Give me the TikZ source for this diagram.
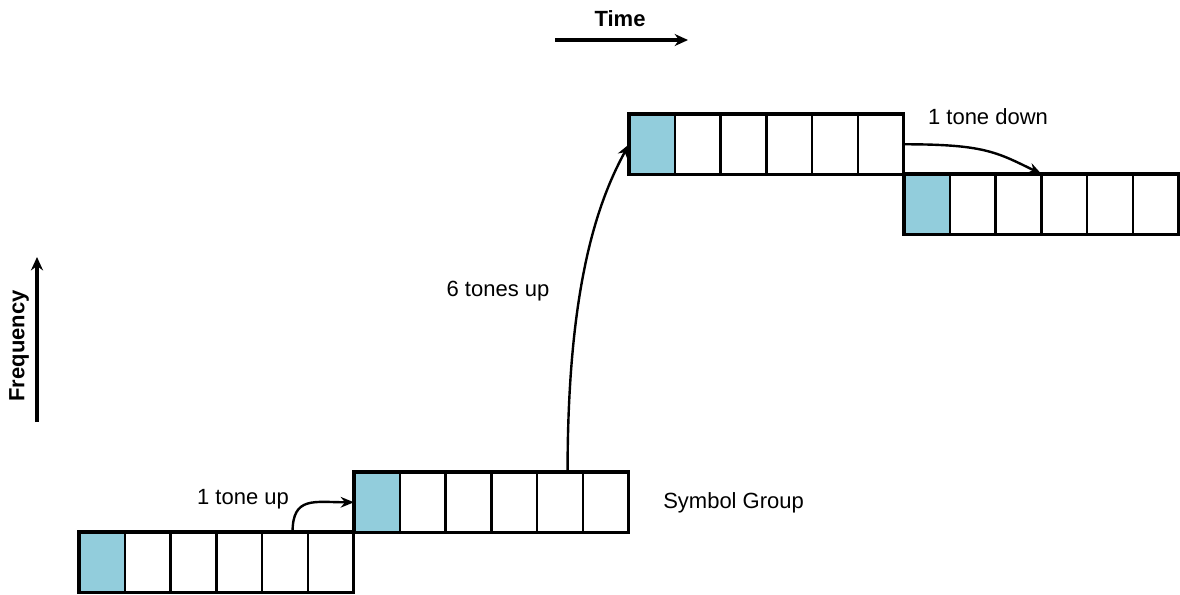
\documentclass[tikz,border=0pt]{standalone}
\usepackage{fontspec}
\setmainfont{Liberation Sans}
\usetikzlibrary{arrows.meta}
\definecolor{tonefill}{RGB}{146,205,220}
\begin{document}
\begin{tikzpicture}[x=0.75pt,y=-0.75pt,
  cell/.style={draw, line width=1.8pt, minimum width=34.35pt, minimum height=45.4pt,
               inner sep=0pt, outer sep=0pt, anchor=north west},
  active/.style={cell, fill=tonefill},
  frame/.style={draw, line width=2.5pt},
  hop/.style={line width=1.8pt, -{Stealth[length=10pt,width=8pt]}},
  axis/.style={line width=2.4pt, -{Stealth[length=10pt,width=9pt]}},
  lbl/.style={font=\fontsize{16.5}{20}\selectfont, inner sep=0pt},
  axlbl/.style={font=\bfseries\fontsize{16.5}{20}\selectfont, inner sep=0pt}]
  \useasboundingbox (0,0) rectangle (1180,594);

  % four symbol groups of six tone cells each; the first cell carries the tone
  \foreach \g/\x/\y in {1/79/532, 2/354/472, 3/629/114, 4/904/174} {
    \node[active] (g\g c1) at (\x,\y) {};
    \foreach \i in {2,...,6} {
      \node[cell] (g\g c\i) at ({\x+(\i-1)*45.8},\y) {};
    }
    \draw[frame] (g\g c1.north west) rectangle (g\g c6.south east);
  }

  % axes
  \coordinate (t0) at (555,40);
  \coordinate (t1) at (688,40);
  \draw[axis] (t0) -- (t1);
  \node[axlbl] (time) at (620,19) {Time};

  \coordinate (f0) at (37,422);
  \coordinate (f1) at (37,257);
  \draw[axis] (f0) -- (f1);
  \node[axlbl, rotate=90] (freq) at (19,346) {Frequency};

  % tone hops between groups
  \draw[hop] ([xshift=5.6pt]g1c5.north) .. controls +(0,-36) and +(-40,0) .. (g2c1.west);
  \draw[hop] ([xshift=5.6pt]g2c5.north) .. controls +(0,-190) and +(-30,55) .. (g3c1.west);
  \draw[hop] (g3c6.east) .. controls +(80,0) and +(-45,-22) .. (g4c3.north east);

  % labels
  \node[lbl] (up1) at (243,499) {1 tone up};
  \node[lbl] (up6) at (498,291) {6 tones up};
  \node[lbl] (down1) at (988,117) {1 tone down};
  \node[lbl, anchor=west] (sg) at (663,503) {Symbol Group};
\end{tikzpicture}
\end{document}
